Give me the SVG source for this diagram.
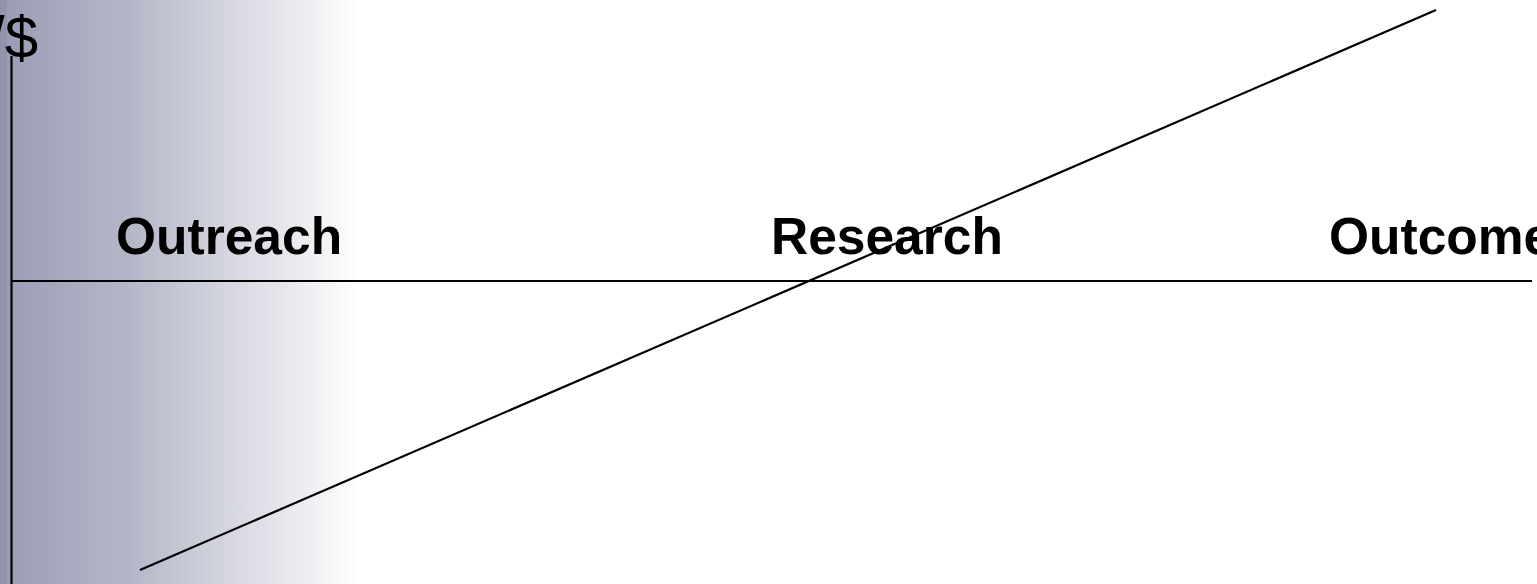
<svg xmlns="http://www.w3.org/2000/svg" width="1537" height="584" viewBox="0 0 1537 584">
<defs>
<linearGradient id="bg" x1="0" y1="0" x2="1" y2="0">
<stop offset="0" stop-color="#9a9cb4"/>
<stop offset="0.35" stop-color="#b4b6c8"/>
<stop offset="0.7" stop-color="#dcdde5"/>
<stop offset="1" stop-color="#ffffff"/>
</linearGradient>
<style>
.lbl{font-family:"Liberation Sans",Arial,sans-serif;font-weight:bold;font-size:51.5px;fill:#000}
.ax{stroke:#000;stroke-width:2.2;fill:none}
</style>
</defs>
<rect width="1537" height="584" fill="#fff"/>
<rect x="0" y="0" width="360" height="584" fill="url(#bg)"/>
<rect x="0" y="0" width="7" height="584" fill="#9294ab"/>
<text x="-12" y="58" font-family="Liberation Sans,Arial,sans-serif" font-size="60" fill="#000">/$</text>
<g id="connectors">
<line class="ax" x1="11.5" y1="56" x2="11.5" y2="584"/>
<line class="ax" x1="11" y1="281" x2="1532" y2="281"/>
<line class="ax" x1="140" y1="570" x2="1436" y2="10"/>
</g>
<g id="outreach"><text class="lbl" x="116" y="254">Outreach</text></g>
<g id="research"><text class="lbl" x="771" y="254">Research</text></g>
<g id="outcome"><text class="lbl" x="1329" y="254">Outcome</text></g>
</svg>
